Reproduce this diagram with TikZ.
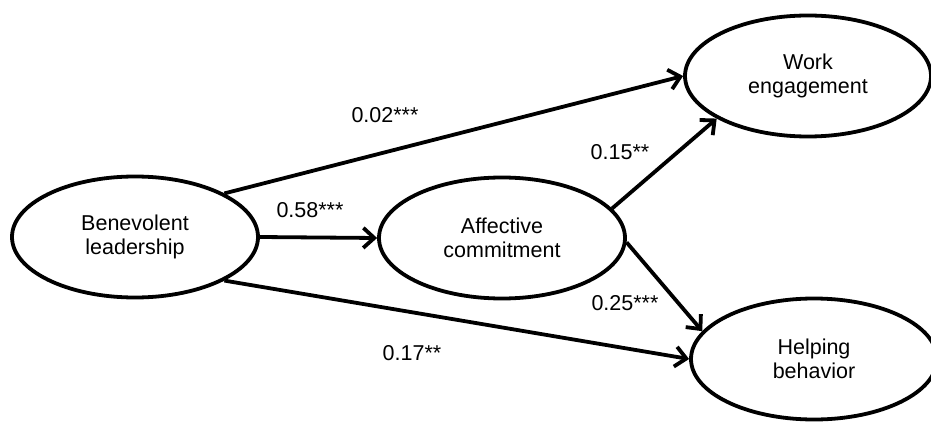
\documentclass[tikz,border=0pt]{standalone}
\usepackage{fontspec}
\setmainfont{Liberation Sans}
\usepackage{tikz}
\usetikzlibrary{arrows.meta,shapes.geometric}

\begin{document}
\begin{tikzpicture}[x=1pt,y=-1pt,
    lv/.style={draw, ellipse, line width=3.8pt, minimum width=246pt, minimum height=121pt, align=center, font=\fontsize{21.5}{24.5}\selectfont},
    path/.style={line width=3.8pt, -{Straight Barb[length=11pt,width=20pt,line width=3.8pt]}},
    coef/.style={font=\fontsize{21.5}{24}\selectfont}]
    \useasboundingbox (0,0) rectangle (931,422);
    \node[lv] at(135,237)(bl){Benevolent\\leadership};
    \node[lv] at(502,238)(ac){Affective\\commitment};
    \node[lv] at(808,76)(we){Work\\engagement};
    \node[lv] at(814,359)(hb){Helping\\behavior};
    \draw[path] (bl.26) -- (we.west);
    \draw[path] (bl.east) -- (ac.west);
    \draw[path] (bl.-26) -- (hb.west);
    \draw[path] (ac.15) -- (we.205);
    \draw[path] (ac.-2) -- (hb.166);
    \node[coef] at(385,115)(c1){0.02***};
    \node[coef] at(310,210)(c2){0.58***};
    \node[coef] at(620,152)(c3){0.15**};
    \node[coef] at(625,303)(c4){0.25***};
    \node[coef] at(412,353)(c5){0.17**};
\end{tikzpicture}
\end{document}
